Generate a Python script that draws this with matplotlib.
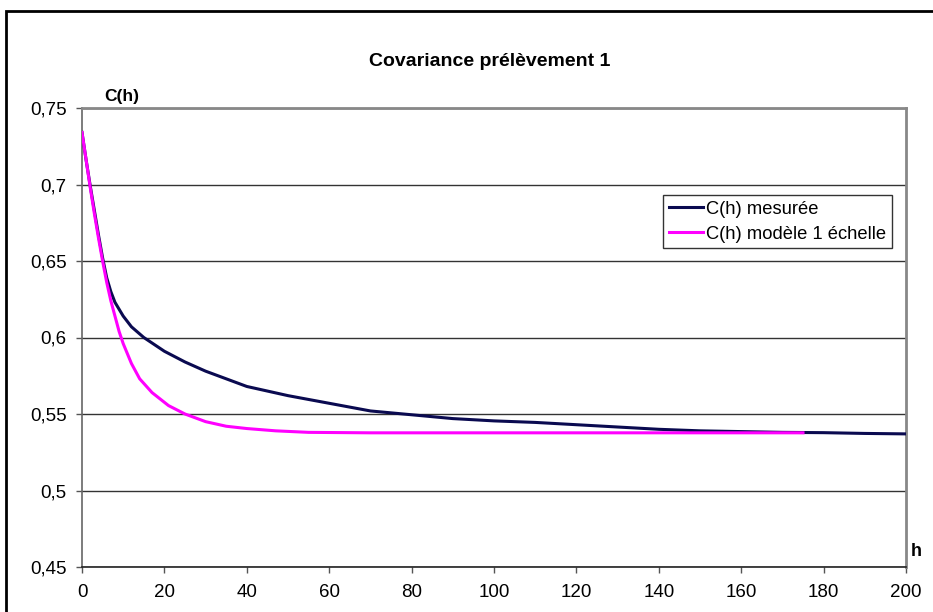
import matplotlib
matplotlib.use("Agg")
import matplotlib.pyplot as plt
from matplotlib.patches import Rectangle

plt.rcParams['font.family'] = ['Liberation Sans', 'DejaVu Sans']

# Data
h_mes = [0, 1, 2, 3, 4, 5, 6, 7, 8, 10, 12, 15, 20, 25, 30, 35, 40, 45, 50,
         60, 70, 80, 90, 100, 110, 120, 130, 140, 150, 160, 170, 180, 190, 200]
c_mes = [0.734, 0.716, 0.699, 0.683, 0.667, 0.652, 0.639, 0.630, 0.623, 0.614,
         0.607, 0.600, 0.591, 0.584, 0.578, 0.573, 0.568, 0.565, 0.562,
         0.557, 0.552, 0.5495, 0.547, 0.5455, 0.5445, 0.543, 0.5415, 0.540,
         0.539, 0.5385, 0.538, 0.5378, 0.5373, 0.537]

h_mod = [0, 1, 2, 3, 4, 5, 6, 7, 8, 9, 10, 12, 14, 17, 21, 25, 30, 35, 40,
         47, 55, 70, 100, 140, 175]
c_mod = [0.734, 0.716, 0.698, 0.681, 0.665, 0.650, 0.636, 0.624, 0.614, 0.604,
         0.596, 0.583, 0.573, 0.564, 0.5555, 0.550, 0.545, 0.542, 0.5405,
         0.539, 0.538, 0.5377, 0.5377, 0.5377, 0.5377]

x_ticks = [0, 20, 40, 60, 80, 100, 120, 140, 160, 180, 200]
y_ticks = [0.45, 0.5, 0.55, 0.6, 0.65, 0.7, 0.75]
y_tick_labels = ['0,45', '0,5', '0,55', '0,6', '0,65', '0,7', '0,75']

title = 'Covariance prélèvement 1'
labels = ['C(h) mesurée', 'C(h) modèle 1 échelle']

W, H = 933, 612
fig = plt.figure(figsize=(W / 100, H / 100), dpi=100)
fig.patch.set_facecolor('white')

# outer chart border
fig.patches.append(Rectangle((6 / W, -0.2), 1.2, 1 - 11 / H + 0.2,
                             transform=fig.transFigure, fill=False,
                             edgecolor='black', linewidth=2.0, zorder=0))

ax = fig.add_axes([82 / W, 1 - 567 / H, (906 - 82) / W, (567 - 108) / H])
ax.set_xlim(0, 200)
ax.set_ylim(0.45, 0.75)

ax.plot(h_mes, c_mes, color='#0a0a50', lw=2.2, label=labels[0], zorder=3)
ax.plot(h_mod, c_mod, color='#ff00ff', lw=2.2, label=labels[1], zorder=4)

ax.set_xticks(x_ticks)
ax.set_xticklabels([str(v) for v in x_ticks])
ax.set_yticks(y_ticks)
ax.set_yticklabels(y_tick_labels)
ax.tick_params(axis='both', direction='out', length=4, width=1,
               color='#555555', labelsize=13.5, labelcolor='black')
ax.tick_params(axis='x', pad=8)
ax.tick_params(axis='y', pad=7)

ax.yaxis.grid(True, color='#333333', linewidth=1)
ax.set_axisbelow(True)
for s in ['top', 'right']:
    ax.spines[s].set_color('#888888')
    ax.spines[s].set_linewidth(2)
ax.spines['left'].set_color('#666666')
ax.spines['left'].set_linewidth(1.2)
ax.spines['bottom'].set_color('#222222')
ax.spines['bottom'].set_linewidth(1.2)

fig.text(490 / W, 1 - 62 / H, title, ha='center', va='center',
         fontsize=14, fontweight='bold')
fig.text(122 / W, 1 - 97 / H, 'C(h)', ha='center', va='center',
         fontsize=12.5, fontweight='bold')
fig.text(916 / W, 1 - 551 / H, 'h', ha='center', va='center',
         fontsize=13, fontweight='bold')

leg = ax.legend(loc='upper left', bbox_to_anchor=((663 - 82) / (906 - 82),
                                                  1 - (195 - 108) / (567 - 108)),
                fontsize=13.2, frameon=True, fancybox=False, handlelength=1.9,
                handletextpad=0.15, borderpad=0.3, labelspacing=0.45,
                borderaxespad=0)
leg.get_frame().set_edgecolor('black')
leg.get_frame().set_linewidth(1)

fig.savefig('out.png', dpi=100)
